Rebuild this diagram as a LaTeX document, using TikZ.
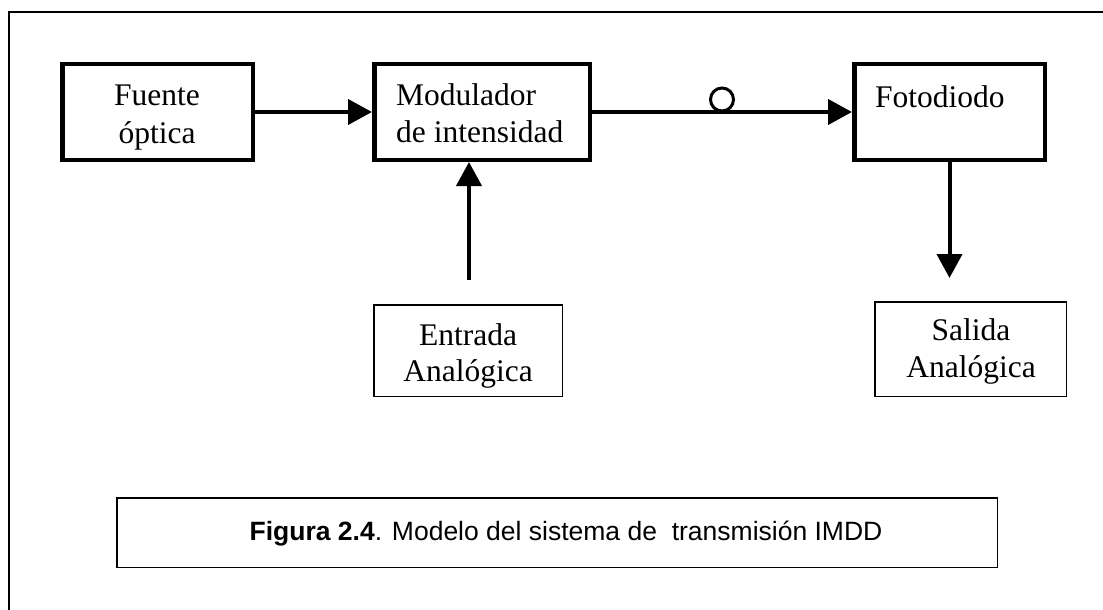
\documentclass[tikz,border=0pt]{standalone}
\usepackage{fontspec}
\setmainfont{Liberation Serif}
\setsansfont{Liberation Sans}
\usetikzlibrary{arrows.meta}
\begin{document}
\begin{tikzpicture}[x=1pt,y=-1pt,
  thickbox/.style={draw, line width=4.5pt, inner sep=0pt},
  thinbox/.style={draw, line width=1.5pt, inner sep=0pt},
  lbl/.style={font=\fontsize{31.5}{37}\selectfont, inner sep=0pt, anchor=base},
  lblw/.style={lbl, anchor=base west},
  conn/.style={line width=4pt, -{Triangle[length=24pt,width=25pt]}},
  capt/.style={font=\sffamily\fontsize{26.5}{30}\selectfont, inner sep=0pt, anchor=base},
]
\useasboundingbox (0,0) rectangle (1103,610);
\draw[line width=1.8pt] (9,612) -- (9,12) -- (1105,12);

% boxes
\node[thickbox, minimum width=190.5pt, minimum height=95.5pt] (fuente) at (157.5,112) {};
\node[thickbox, minimum width=215.5pt, minimum height=95.5pt] (modul) at (482,112) {};
\node[thickbox, minimum width=190.5pt, minimum height=95.5pt] (foto) at (949.5,112) {};
\node[thinbox, minimum width=188.5pt, minimum height=91.5pt] (entrada) at (468,350.5) {};
\node[thinbox, minimum width=191.5pt, minimum height=94.5pt] (salida) at (970.5,349) {};
\node[thinbox, minimum width=880.5pt, minimum height=69.5pt] (caption) at (557,532.5) {};

% texts
\node[lbl] (fuente1) at (157,105) {Fuente};
\node[lbl] (fuente2) at (157,143) {óptica};
\node[lblw] (modul1) at (396,105) {Modulador};
\node[lblw] (modul2) at (396,142) {de intensidad};
\node[lblw] (foto1) at (875,107) {Fotodiodo};
\node[lbl] (entrada1) at (468,345) {Entrada};
\node[lbl] (entrada2) at (468,381) {Analógica};
\node[lbl] (salida1) at (971,340) {Salida};
\node[lbl] (salida2) at (971,377) {Analógica};
\node[capt] (captxt) at (566,540) {\textbf{Figura 2.4}. Modelo del sistema de\ \ transmisión IMDD};

% connectors
\draw[conn] (fuente.east) -- (modul.west);
\draw[conn] (modul.east) -- (foto.west);
\node[circle, draw, line width=3pt, minimum size=23pt, inner sep=0pt] (ring) at (722,99.5) {};
\coordinate (inA) at (469,280);
\draw[conn] (inA) -- (inA |- modul.south);
\coordinate (outA) at (949.5,278);
\draw[conn] (foto.south) -- (outA);
\end{tikzpicture}
\end{document}
